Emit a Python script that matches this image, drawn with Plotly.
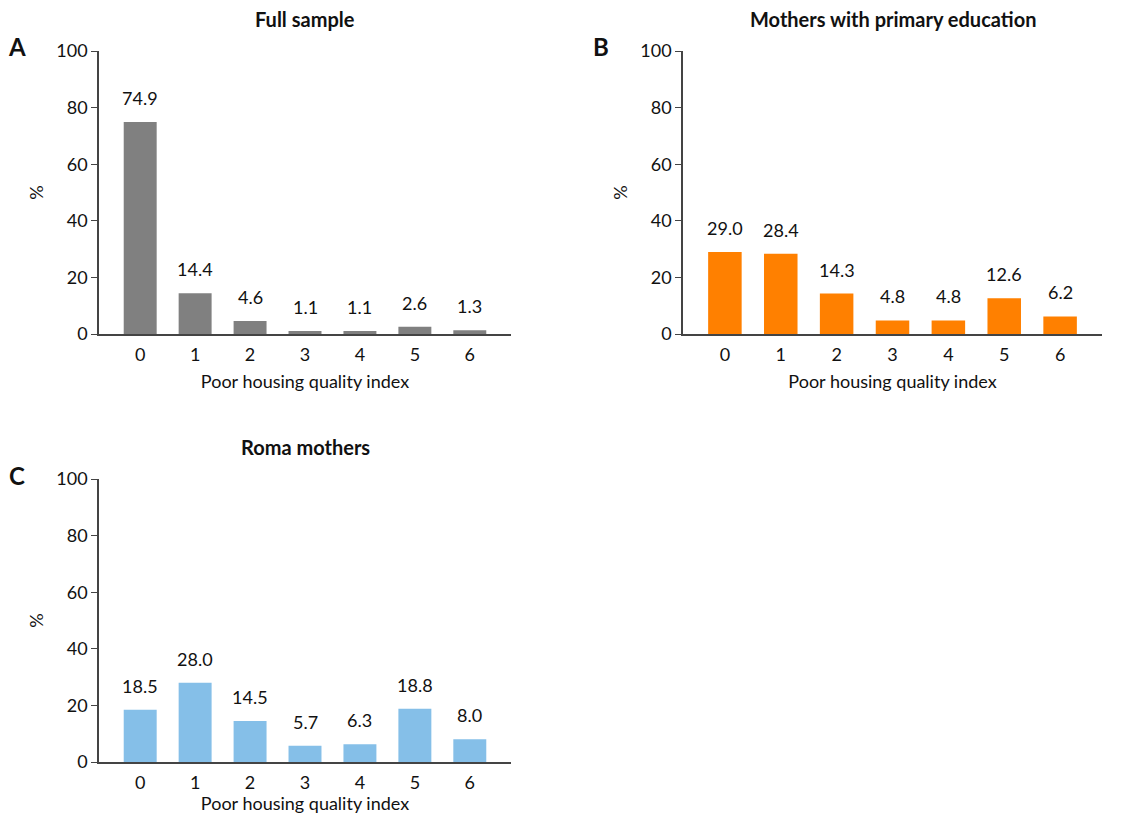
import plotly.graph_objects as go

# data
index_levels = [0, 1, 2, 3, 4, 5, 6]
full_sample = [74.9, 14.4, 4.6, 1.1, 1.1, 2.6, 1.3]
primary_edu = [29.0, 28.4, 14.3, 4.8, 4.8, 12.6, 6.2]
roma_mothers = [18.5, 28.0, 14.5, 5.7, 6.3, 18.8, 8.0]

panel_titles = ['Full sample', 'Mothers with primary education', 'Roma mothers']
panel_letters = ['A', 'B', 'C']
bar_colors = ['#808080', '#FF8000', '#85BFE8']

# the page body adds 8px round the figure, so the figure is a bit smaller
PAD = 8
W, H = 1133 - 2 * PAD, 822 - 2 * PAD
FONT = 'Lato, Open Sans, sans-serif'

# panel boxes in page pixels: left, right, top, bottom
boxes = [(99, 511, 51, 334), (683, 1102, 51, 334), (99, 511, 479, 762)]


def px_x(p):
    return (p - PAD) / W


def px_y(p):
    return 1 - (p - PAD) / H


fig = go.Figure()
series = [full_sample, primary_edu, roma_mothers]

for i, (vals, color, box) in enumerate(zip(series, bar_colors, boxes)):
    n = '' if i == 0 else str(i + 1)
    xa, ya = 'x' + n, 'y' + n
    fig.add_trace(go.Bar(x=index_levels, y=vals, marker_color=color,
                         marker_line_width=0, width=0.6,
                         xaxis=xa, yaxis=ya, showlegend=False,
                         hoverinfo='x+y'))
    # value labels above the bars
    for k, v in zip(index_levels, vals):
        fig.add_annotation(x=k, y=v, xref=xa, yref=ya, text=f'{v:.1f}',
                           showarrow=False, yanchor='bottom', yshift=11,
                           font=dict(size=18, color='#111', family=FONT))
    l, r, t, b = box
    fig.layout['xaxis' + n] = dict(
        domain=[px_x(l), px_x(r)], anchor=ya, range=[-0.75, 6.75],
        tickvals=index_levels, showline=True, linecolor='#444', linewidth=1.5,
        ticks='', ticklabelstandoff=4, showgrid=False, zeroline=False,
        automargin=False,
        tickfont=dict(size=18, color='#111', family=FONT),
        title=dict(text='Poor housing quality index', standoff=11,
                   font=dict(size=18, color='#111', family=FONT)))
    fig.layout['yaxis' + n] = dict(
        domain=[px_y(b), px_y(t)], anchor=xa, range=[0, 100],
        tickvals=[0, 20, 40, 60, 80, 100], showline=True, linecolor='#444',
        linewidth=1.5, ticks='outside', ticklen=6, tickcolor='#444',
        showgrid=False, zeroline=False, automargin=False,
        tickfont=dict(size=18, color='#111', family=FONT),
        title=dict(text='%', standoff=8,
                   font=dict(size=18, color='#111', family=FONT)))
    # panel title and letter
    fig.add_annotation(x=px_x((l + r) / 2), y=px_y(t - 32), xref='paper', yref='paper',
                       xanchor='center', yanchor='middle', borderpad=0,
                       text='<b>' + panel_titles[i] + '</b>', showarrow=False,
                       font=dict(size=20, color='#111', family=FONT))
    fig.add_annotation(x=px_x(l - 82), y=px_y(t - 4), xref='paper', yref='paper',
                       xanchor='center', yanchor='middle',
                       text='<b>' + panel_letters[i] + '</b>', showarrow=False,
                       font=dict(size=24, color='#111', family=FONT))

fig.update_layout(width=W, height=H, margin=dict(l=0, r=0, t=0, b=0),
                  plot_bgcolor='white', paper_bgcolor='white',
                  bargap=0.4)

fig.write_html('out.html')
